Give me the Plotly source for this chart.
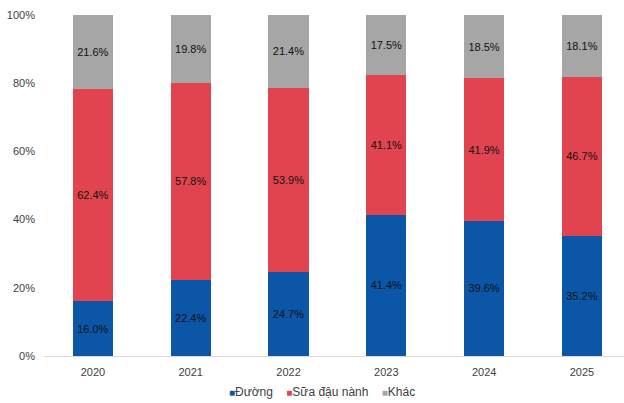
import plotly.graph_objects as go

years = ["2020", "2021", "2022", "2023", "2024", "2025"]
duong = [16.0, 22.4, 24.7, 41.4, 39.6, 35.2]
sua_dau_nanh = [62.4, 57.8, 53.9, 41.1, 41.9, 46.7]
khac = [21.6, 19.8, 21.4, 17.5, 18.5, 18.1]
y_ticks = [0, 20, 40, 60, 80, 100]

series = [
    ("Đường", duong, "#0B56A6"),
    ("Sữa đậu nành", sua_dau_nanh, "#E1444F"),
    ("Khác", khac, "#A6A6A6"),
]

fig = go.Figure()
for name, vals, color in series:
    fig.add_trace(go.Bar(
        x=years, y=vals, name=name,
        marker=dict(color=color, line=dict(width=0)),
        width=0.41,
        text=[f"{v:.1f}%" for v in vals],
        textposition="inside",
        insidetextanchor="middle",
        textangle=0,
        textfont=dict(family="Arial, Liberation Sans", size=11, color="#111111"),
        hoverinfo="skip",
        showlegend=False,
    ))

# legend drawn as text with coloured square glyphs
legend_html = "&#160;&#160;&#160;&#160;".join(
    f"<span style='color:{c};font-size:10px'>■</span>{n}" for n, _, c in series
)
fig.add_annotation(
    text=legend_html, xref="paper", yref="paper",
    x=0.479, y=-0.105, xanchor="center", yanchor="middle",
    showarrow=False, font=dict(size=12, color="#404040"),
)

fig.update_layout(
    barmode="stack",
    width=624, height=403,
    margin=dict(l=44, r=0, t=15, b=47),
    paper_bgcolor="white", plot_bgcolor="white",
    font=dict(family="Arial, Liberation Sans", size=11, color="#404040"),
    showlegend=False,
    uniformtext=dict(minsize=11, mode="show"),
)
fig.update_xaxes(
    type="category", range=[-0.5, 5.43],
    showline=True, linecolor="#D9D9D9", linewidth=1,
    ticks="", showgrid=False,
    tickfont=dict(size=11, color="#404040"),
    ticklabelstandoff=6,
)
fig.update_yaxes(
    range=[0, 100], tickvals=y_ticks, ticktext=[f"{t}%" for t in y_ticks],
    showgrid=False, zeroline=False, showline=False, ticks="",
    tickfont=dict(size=11, color="#404040"),
    ticklabelstandoff=8,
)

fig.write_html("out.html")
